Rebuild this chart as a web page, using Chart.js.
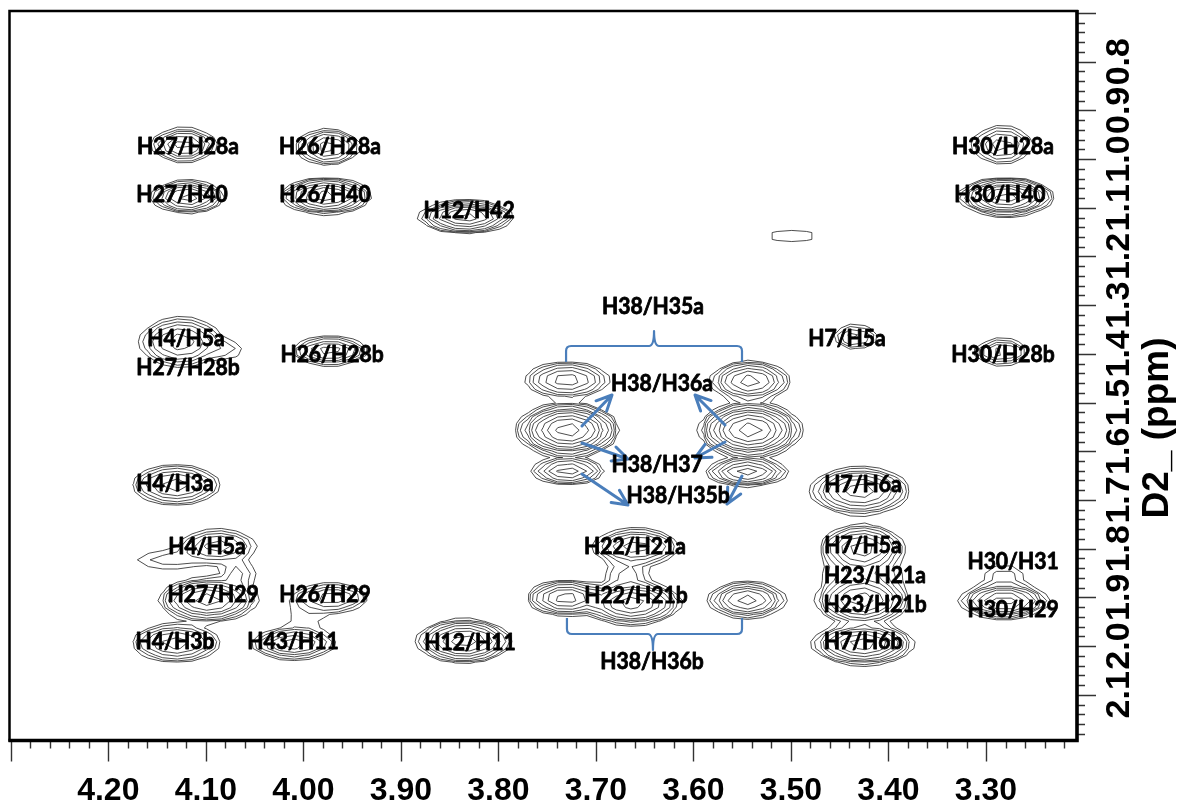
<!DOCTYPE html>
<html>
<head>
<meta charset="utf-8">
<script src="https://cdn.jsdelivr.net/npm/chart.js@4.4.0/dist/chart.umd.min.js"></script>
<style>
  html, body { margin: 0; padding: 0; background: #ffffff; overflow: hidden; }
  #wrap { width: 1184px; height: 807px; position: relative; }
</style>
</head>
<body>
<div id="wrap"><canvas id="spec" width="1184" height="807"></canvas></div>
<script>
// ---- axis labels ----
const xTickLabels = ['4.20', '4.10', '4.00', '3.90', '3.80', '3.70', '3.60', '3.50', '3.40', '3.30'];
const yTickLabels = ['0.8', '0.9', '1.0', '1.1', '1.2', '1.3', '1.4', '1.5', '1.6', '1.7', '1.8', '1.9', '2.0', '2.1'];
const yTitle = 'D2_ (ppm)';

// ---- cross peaks (ppm) ----
// F2 shift, F1 shift, half extent of the lowest contour along F2 / F1, number of contour rings
const peakF2 = [4.1224, 4.1183, 3.9747, 3.9768, 3.8332, 3.4989, 4.1255, 4.0773, 3.9727, 3.4343,
                3.2836, 3.2795, 3.2836, 3.7297, 3.7287, 3.7287, 3.5420, 3.5420, 3.5451, 4.1306,
                3.4292, 4.0875, 4.1380, 4.0978, 3.9706, 3.9983, 4.1306, 4.0106, 3.8353, 3.6589,
                3.6630, 3.7307, 3.5451, 3.4272, 3.4272, 3.4261, 3.2816, 3.2816, 4.0670, 3.6680,
                3.4272];
const peakF1 = [0.9710, 1.0778, 0.9752, 1.0758, 1.1189, 1.1579, 1.3756, 1.3920, 1.3940, 1.3653,
                0.9710, 1.0778, 1.3961, 1.4536, 1.5563, 1.6405, 1.4557, 1.5563, 1.6426, 1.6692,
                1.6815, 1.7945, 1.8232, 1.9053, 1.9012, 1.9423, 1.9937, 1.9958, 1.9896, 1.7965,
                1.9115, 1.9013, 1.9053, 1.8006, 1.9053, 1.9958, 1.9074, 1.8561, 1.8520, 1.8540,
                1.8540];
const peakSpanF2 = [0.031, 0.036, 0.031, 0.045, 0.047, 0.026, 0.041, 0.012, 0.038, 0.021,
                    0.029, 0.047, 0.026, 0.042, 0.051, 0.036, 0.039, 0.051, 0.040, 0.044,
                    0.050, 0.038, 0.032, 0.049, 0.036, 0.014, 0.044, 0.041, 0.047, 0.043,
                    0.049, 0.039, 0.038, 0.042, 0.046, 0.051, 0.044, 0.020, 0.016, 0.020,
                    0.038];
const peakSpanF1 = [0.035, 0.033, 0.037, 0.037, 0.033, 0.0120, 0.051, 0.018, 0.029, 0.025,
                    0.039, 0.039, 0.027, 0.037, 0.056, 0.027, 0.041, 0.058, 0.029, 0.041,
                    0.049, 0.034, 0.018, 0.045, 0.029, 0.025, 0.039, 0.031, 0.045, 0.038,
                    0.045, 0.036, 0.037, 0.050, 0.052, 0.043, 0.036, 0.022, 0.028, 0.026,
                    0.024];
const peakRings = [6, 7, 6, 8, 8, 1, 6, 2, 6, 4,
                   5, 9, 5, 6, 10, 6, 7, 10, 7, 6,
                   7, 5, 2, 8, 5, 1, 6, 6, 8, 6,
                   8, 7, 7, 7, 8, 8, 8, 2, 3, 3,
                   3];

// ---- assignment labels ----
const labelText = ['H27/H28a', 'H27/H40', 'H26/H28a', 'H26/H40', 'H12/H42', 'H38/H35a', 'H7/H5a',
                   'H30/H28a', 'H30/H40', 'H4/H5a', 'H27/H28b', 'H26/H28b', 'H30/H28b', 'H38/H36a',
                   'H38/H37', 'H38/H35b', 'H4/H3a', 'H7/H6a', 'H4/H5a', 'H22/H21a', 'H7/H5a',
                   'H23/H21a', 'H30/H31', 'H27/H29', 'H26/H29', 'H22/H21b', 'H23/H21b', 'H30/H29',
                   'H4/H3b', 'H43/H11', 'H12/H11', 'H7/H6b', 'H38/H36b'];
const labelF2 = [4.1183, 4.1244, 3.9727, 3.9778, 3.8301, 3.6415, 3.4425,
                 3.2826, 3.2857, 4.1203, 4.1183, 3.9706, 3.2826, 3.6322,
                 3.6373, 3.6158, 4.1316, 3.4261, 4.0988, 3.6599, 3.4261,
                 3.4138, 3.2723, 4.0926, 3.9778, 3.6589, 3.4138, 3.2723,
                 4.1316, 4.0106, 3.8291, 3.4261, 3.6425];
const labelF1 = [0.9752, 1.0737, 0.9752, 1.0737, 1.1066, 1.3037, 1.3694,
                 0.9752, 1.0737, 1.3694, 1.4290, 1.4023, 1.4023, 1.4618,
                 1.6281, 1.6918, 1.6671, 1.6692, 1.7965, 1.7965, 1.7945,
                 1.8561, 1.8273, 1.8951, 1.8951, 1.8971, 1.9156, 1.9258,
                 1.9916, 1.9916, 1.9937, 1.9916, 2.0327];

// ---- H38 annotations: arrows (from F2/F1 -> to F2/F1) and braces ----
const arrowFromF2 = [3.7143, 3.7143, 3.7143, 3.5676, 3.5676, 3.5502];
const arrowFromF1 = [1.5480, 1.5830, 1.6467, 1.5460, 1.5810, 1.6508];
const arrowToF2 = [3.6835, 3.6671, 3.6671, 3.5984, 3.5984, 3.5656];
const arrowToF1 = [1.4844, 1.6158, 1.7103, 1.4844, 1.6138, 1.7082];
// brace: left F2, right F2, centre F2, leg end F1, bar F1, tip F1
const braceTop = [3.7306, 3.5502, 3.6404, 1.4166, 1.3838, 1.3530];
const braceBottom = [3.7297, 3.5502, 3.6415, 1.9424, 1.9752, 2.0080];

const X_MIN = 3.2067, X_MAX = 4.3013;
const Y_MIN = 0.6959, Y_MAX = 2.1939;

const LEVEL_STEP = 0.45;     // log spacing between contour levels
const GRID_DX = 0.015, GRID_DY = 0.014;
const ANNOT_BLUE = '#4a7ebb';

// Contours of the summed cross-peak surface (marching squares)
const contourPlugin = {
  id: 'contours',
  beforeDatasetsDraw(chart) {
    const { ctx, chartArea, scales } = chart;
    const xs = scales.x, ys = scales.y;
    const peaks = peakF2.map((x, i) => {
      const lnA = (peakRings[i] - 0.4) * LEVEL_STEP;
      return {
        x, y: peakF1[i], A: Math.exp(lnA),
        sx: peakSpanF2[i] / Math.sqrt(2 * lnA),
        sy: peakSpanF1[i] / Math.sqrt(2 * lnA)
      };
    });
    const nx = Math.ceil((X_MAX - X_MIN) / GRID_DX) + 2;
    const ny = Math.ceil((Y_MAX - Y_MIN) / GRID_DY) + 2;
    const gx = [], gy = [], px = [], py = [];
    for (let i = 0; i < nx; i++) { gx.push(X_MIN - GRID_DX / 2 + i * GRID_DX); px.push(xs.getPixelForValue(gx[i])); }
    for (let j = 0; j < ny; j++) { gy.push(Y_MIN - GRID_DY / 2 + j * GRID_DY); py.push(ys.getPixelForValue(gy[j])); }
    const v = [];
    for (let j = 0; j < ny; j++) {
      const row = new Float64Array(nx);
      for (let i = 0; i < nx; i++) {
        let s = 0;
        for (const p of peaks) {
          const dx = (gx[i] - p.x) / p.sx, dy = (gy[j] - p.y) / p.sy;
          const e = 0.5 * (dx * dx + dy * dy);
          if (e < 30) s += p.A * Math.exp(-e);
        }
        row[i] = s;
      }
      v.push(row);
    }
    const maxRings = Math.max(...peakRings) + 3;
    ctx.save();
    ctx.beginPath();
    ctx.rect(chartArea.left, chartArea.top, chartArea.right - chartArea.left, chartArea.bottom - chartArea.top);
    ctx.clip();
    ctx.strokeStyle = '#2e2e2e';
    ctx.lineWidth = 0.85;
    for (let k = 0; k < maxRings; k++) {
      const L = Math.exp(k * LEVEL_STEP);
      ctx.beginPath();
      for (let j = 0; j < ny - 1; j++) {
        for (let i = 0; i < nx - 1; i++) {
          const c = [v[j][i], v[j][i + 1], v[j + 1][i + 1], v[j + 1][i]];
          const cx = [px[i], px[i + 1], px[i + 1], px[i]];
          const cy = [py[j], py[j], py[j + 1], py[j + 1]];
          let idx = 0;
          for (let q = 0; q < 4; q++) if (c[q] > L) idx |= (1 << q);
          if (idx === 0 || idx === 15) continue;
          const edgePt = (e) => {
            const a = e, b = (e + 1) % 4;
            const t = (L - c[a]) / (c[b] - c[a]);
            return [cx[a] + t * (cx[b] - cx[a]), cy[a] + t * (cy[b] - cy[a])];
          };
          let segs;
          const mid = (c[0] + c[1] + c[2] + c[3]) / 4;
          switch (idx) {
            case 1: case 14: segs = [[3, 0]]; break;
            case 2: case 13: segs = [[0, 1]]; break;
            case 3: case 12: segs = [[3, 1]]; break;
            case 4: case 11: segs = [[1, 2]]; break;
            case 6: case 9: segs = [[0, 2]]; break;
            case 7: case 8: segs = [[3, 2]]; break;
            case 5: segs = mid > L ? [[0, 1], [2, 3]] : [[3, 0], [1, 2]]; break;
            case 10: segs = mid > L ? [[3, 0], [1, 2]] : [[0, 1], [2, 3]]; break;
          }
          for (const [e1, e2] of segs) {
            const a = edgePt(e1), b = edgePt(e2);
            ctx.moveTo(a[0], a[1]);
            ctx.lineTo(b[0], b[1]);
          }
        }
      }
      ctx.stroke();
    }
    ctx.restore();
  }
};

// Assignment labels, arrows and braces
const annotationPlugin = {
  id: 'assignments',
  afterDatasetsDraw(chart) {
    const { ctx, scales } = chart;
    const X = (v) => scales.x.getPixelForValue(v);
    const Y = (v) => scales.y.getPixelForValue(v);
    ctx.save();
    // braces
    ctx.strokeStyle = ANNOT_BLUE;
    ctx.lineWidth = 2.2;
    ctx.lineJoin = 'round';
    const brace = (b) => {
      const xl = X(b[0]), xr = X(b[1]), xc = X(b[2]);
      const yl = Y(b[3]), yb = Y(b[4]), yt = Y(b[5]);
      const dir = Math.sign(yb - yl);
      const r = 5;
      ctx.beginPath();
      ctx.moveTo(xl, yl);
      ctx.lineTo(xl, yb - dir * r);
      ctx.quadraticCurveTo(xl, yb, xl + r, yb);
      ctx.lineTo(xc - r, yb);
      ctx.quadraticCurveTo(xc, yb, xc, yt);
      ctx.quadraticCurveTo(xc, yb, xc + r, yb);
      ctx.lineTo(xr - r, yb);
      ctx.quadraticCurveTo(xr, yb, xr, yb - dir * r);
      ctx.lineTo(xr, yl);
      ctx.stroke();
    };
    brace(braceTop);
    brace(braceBottom);
    // arrows
    ctx.lineWidth = 3;
    ctx.lineCap = 'round';
    for (let i = 0; i < arrowFromF2.length; i++) {
      const x0 = X(arrowFromF2[i]), y0 = Y(arrowFromF1[i]);
      const x1 = X(arrowToF2[i]), y1 = Y(arrowToF1[i]);
      const ang = Math.atan2(y1 - y0, x1 - x0);
      const h = 17, spread = 0.45;
      ctx.beginPath();
      ctx.moveTo(x0, y0);
      ctx.lineTo(x1, y1);
      ctx.moveTo(x1 - h * Math.cos(ang - spread), y1 - h * Math.sin(ang - spread));
      ctx.lineTo(x1, y1);
      ctx.lineTo(x1 - h * Math.cos(ang + spread), y1 - h * Math.sin(ang + spread));
      ctx.stroke();
    }
    // labels
    ctx.fillStyle = '#000000';
    ctx.strokeStyle = '#000000';
    ctx.lineWidth = 0.8;
    ctx.lineJoin = 'round';
    ctx.font = 'bold 22px Lato, "Open Sans", sans-serif';
    ctx.textAlign = 'center';
    ctx.textBaseline = 'middle';
    const ref = ctx.measureText('H27/H28a').width;
    const squeeze = Math.max(0.8, Math.min(1.05, 102 / ref));
    for (let i = 0; i < labelText.length; i++) {
      ctx.save();
      ctx.translate(X(labelF2[i]), Y(labelF1[i]));
      ctx.scale(squeeze, 1);
      ctx.fillText(labelText[i], 0, 0);
      ctx.strokeText(labelText[i], 0, 0);
      ctx.restore();
    }
    ctx.restore();
  }
};

// Frame, tick marks, tick labels and axis title
const axisPlugin = {
  id: 'spectrumAxes',
  afterDraw(chart) {
    const { ctx, chartArea: a, scales } = chart;
    ctx.save();
    // ticks every 0.02 ppm, long ones every 0.1 ppm
    ctx.strokeStyle = '#333333';
    ctx.lineWidth = 1.4;
    ctx.beginPath();
    for (let k = Math.ceil(X_MIN / 0.02); k <= Math.floor(X_MAX / 0.02); k++) {
      const x = Math.round(scales.x.getPixelForValue(k * 0.02)) + 0.5;
      const len = (k % 5 === 0) ? 21 : 8;
      ctx.moveTo(x, a.bottom);
      ctx.lineTo(x, a.bottom + len);
    }
    for (let k = Math.ceil(Y_MIN / 0.02); k <= Math.floor(Y_MAX / 0.02); k++) {
      const y = Math.round(scales.y.getPixelForValue(k * 0.02)) + 0.5;
      const len = (k % 5 === 0) ? 19 : 8;
      ctx.moveTo(a.right, y);
      ctx.lineTo(a.right + len, y);
    }
    ctx.stroke();
    // frame
    ctx.strokeStyle = '#000000';
    ctx.lineWidth = 2.5;
    ctx.strokeRect(a.left, a.top, a.right - a.left, a.bottom - a.top);
    ctx.lineWidth = 3.5;
    ctx.beginPath();
    ctx.moveTo(a.left - 1, a.bottom);
    ctx.lineTo(a.right, a.bottom);
    ctx.lineTo(a.right, a.top - 1);
    ctx.stroke();
    // x tick labels
    ctx.fillStyle = '#000000';
    ctx.font = 'bold 32px "Liberation Sans", Arial, sans-serif';
    ctx.textAlign = 'center';
    ctx.textBaseline = 'middle';
    for (const t of xTickLabels) {
      ctx.fillText(t, scales.x.getPixelForValue(parseFloat(t)), 791);
    }
    // y tick labels (rotated)
    ctx.font = 'bold 34px "Liberation Sans", Arial, sans-serif';
    for (const t of yTickLabels) {
      ctx.save();
      ctx.translate(1120, scales.y.getPixelForValue(parseFloat(t)));
      ctx.rotate(-Math.PI / 2);
      ctx.fillText(t, 0, 0);
      ctx.restore();
    }
    // axis title
    ctx.font = 'bold 37px "Liberation Sans", Arial, sans-serif';
    ctx.save();
    ctx.translate(1158, 428);
    ctx.rotate(-Math.PI / 2);
    ctx.fillText(yTitle, 0, 0);
    ctx.restore();
    ctx.restore();
  }
};

const canvas = document.getElementById('spec');
new Chart(canvas.getContext('2d'), {
  type: 'scatter',
  data: {
    datasets: [{
      label: 'cross peaks',
      data: peakF2.map((x, i) => ({ x, y: peakF1[i] })),
      pointRadius: 0,
      showLine: false
    }]
  },
  options: {
    responsive: false,
    animation: false,
    devicePixelRatio: 1,
    events: [],
    layout: { padding: { left: 9.5, top: 11, right: 107, bottom: 66.5 } },
    plugins: { legend: { display: false }, tooltip: { enabled: false } },
    scales: {
      x: { type: 'linear', reverse: true, min: X_MIN, max: X_MAX, display: false },
      y: { type: 'linear', reverse: true, min: Y_MIN, max: Y_MAX, display: false }
    }
  },
  plugins: [contourPlugin, annotationPlugin, axisPlugin]
});
</script>
</body>
</html>
